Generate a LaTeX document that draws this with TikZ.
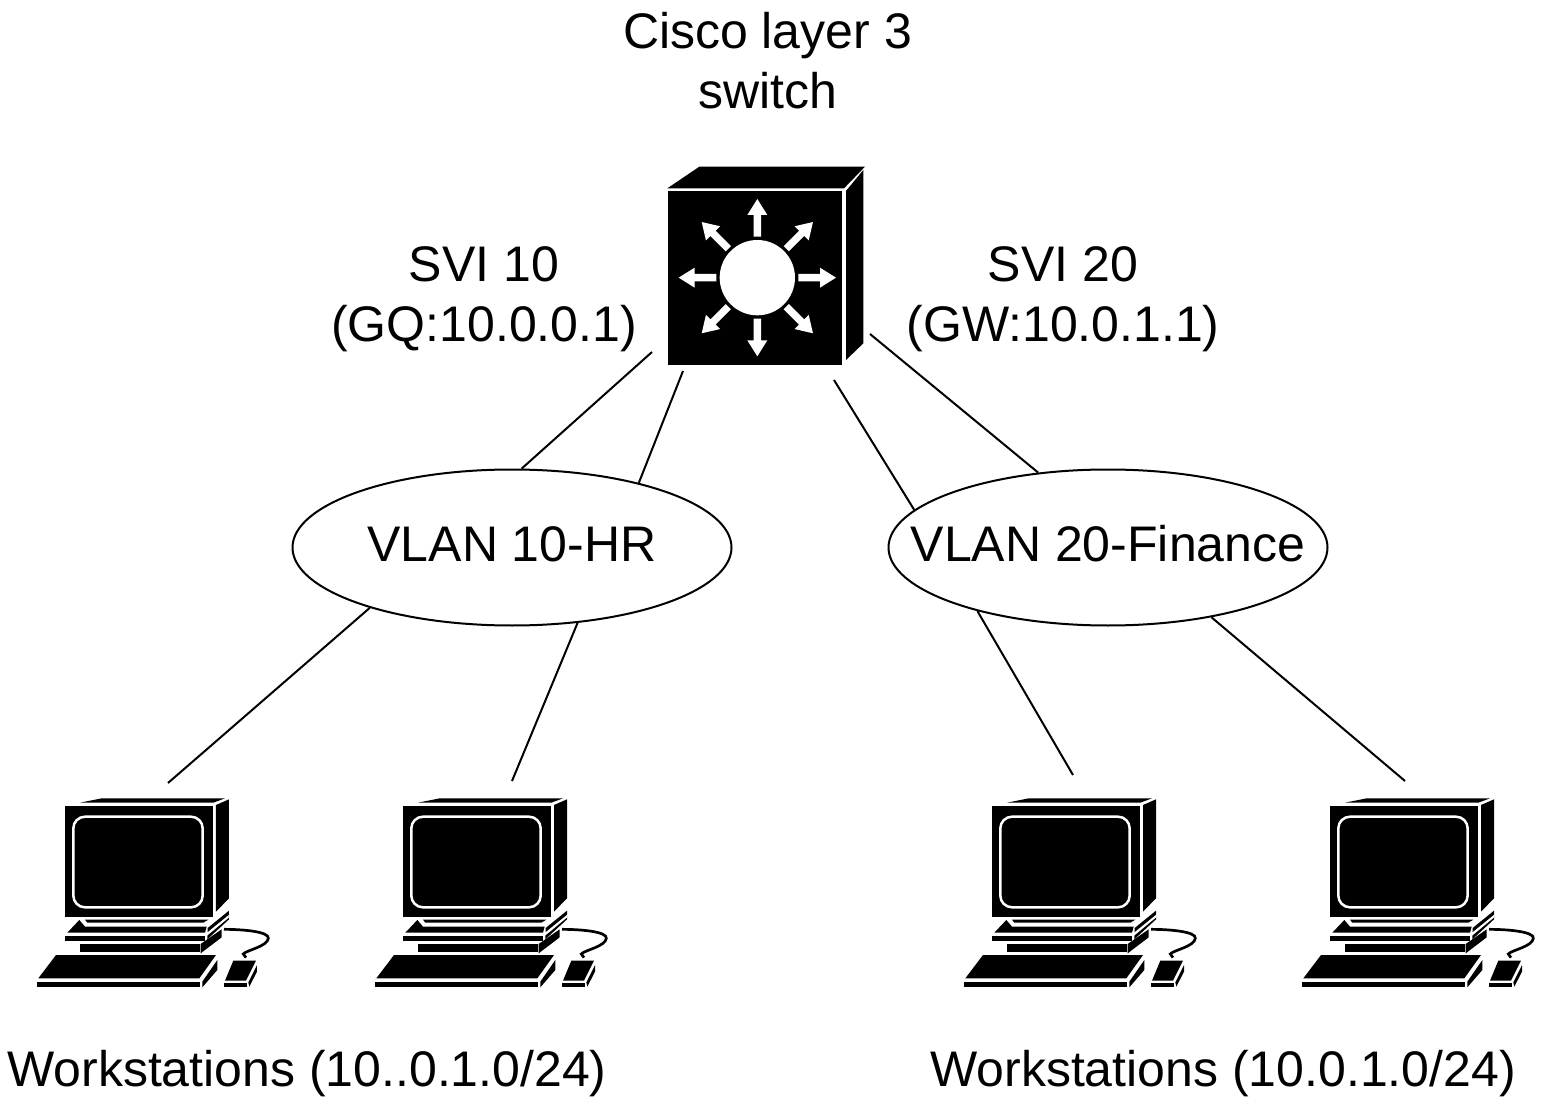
\documentclass[tikz,border=0pt]{standalone}
\usepackage{fontspec}
\setmainfont{Liberation Sans}
\usetikzlibrary{shapes.geometric}
\tikzset{
  x=1pt,y=-1pt,
  lbl/.style={inner sep=0pt,align=center,font=\fontsize{50}{60}\selectfont},
  vlan/.style={draw=black,line width=2pt,ellipse,inner sep=0pt,minimum width=439pt,minimum height=156pt,text depth=9pt,text height=36pt,font=\fontsize{50}{60}\selectfont},
  link/.style={draw=black,line width=2pt},
  zoomed/.style={x=.33333pt,y=-.33333pt},
  workstation/.pic={
    \begin{scope}[zoomed]
      % monitor
      \fill (105,47) rectangle (548,380);
      \fill (150,38) -- (215,25) -- (585,25) -- (550,38) -- cycle;
      \fill (558,45) -- (597,28) -- (597,325) -- (558,365) -- cycle;
      \draw[white,line width=2.5pt,rounded corners=11.7pt] (130,80) rectangle (518,352);
      % stand
      \fill (148,390) -- (165,410) -- (530,410) -- (525,428) -- (112,428) -- cycle;
      \fill (165,389) -- (515,389) -- (535,389) -- (520,398) -- (172,398) -- cycle;
      \fill (105,437) rectangle (525,453);
      \fill (149,462) rectangle (510,487);
      \fill (533,414) -- (597,362) -- (597,374) -- (533,426) -- cycle;
      \fill (532,437) -- (597,383) -- (597,378) -- (597,388) -- (532,448) -- cycle;
      \fill (512,462) -- (575,418) -- (575,442) -- (512,490) -- cycle;
      % keyboard
      \fill (78,495) -- (558,495) -- (508,565) -- (25,565) -- cycle;
      \fill (20,575) rectangle (510,592);
      \fill (517,575) -- (562,510) -- (562,540) -- (517,592) -- cycle;
      % cable
      \draw[line width=2.7pt] (582,418) .. controls (640,418) and (718,425) .. (715,445) .. controls (712,470) and (650,480) .. (640,492) -- (648,503);
      % mouse
      \fill (610,512) -- (678,512) -- (648,572) -- (585,572) -- cycle;
      \fill (583,580) rectangle (650,592);
      \fill (655,577) -- (681,525) -- (681,545) -- (658,590) -- cycle;
    \end{scope}
  }
}
\begin{document}
\begin{tikzpicture}
\useasboundingbox (0,0) rectangle (1551,1107);
% switch
\begin{scope}[shift={(650,155)},zoomed]
  \fill (55,108) rectangle (577,630);
  \fill (52,100) -- (148,35) -- (645,35) -- (582,100) -- cycle;
  \fill (588,108) -- (640,45) -- (640,565) -- (588,615) -- cycle;
  \fill[white] (322,368) circle[radius=113];
  \begin{scope}[shift={(322,368)}]
    \foreach \a in {0,45,...,315}{
      \fill[white,rotate=\a] (123,-11) -- (188,-11) -- (188,-30) -- (236,0) -- (188,30) -- (188,11) -- (123,11) -- cycle;
    }
  \end{scope}
\end{scope}
\coordinate (swA) at (652,352);
\coordinate (swB) at (683,371);
\coordinate (swC) at (834,380);
\coordinate (swD) at (870,334);
% vlans
\node[vlan] (v10) at (512,547.5) {\makebox[0pt]{VLAN 10-HR}};
\node[vlan] (v20) at (1108,547.5) {\makebox[0pt]{VLAN 20-Finance}};
% workstations
\pic at (30,790) {workstation};
\pic at (368,790) {workstation};
\pic at (957,790) {workstation};
\pic at (1295,790) {workstation};
\coordinate (pcA) at (168,783);
\coordinate (pcB) at (512,781);
\coordinate (pcC) at (1073,775);
\coordinate (pcD) at (1405,781);
% links
\draw[link] (swA) -- (v10.83.6);
\draw[link] (swB) -- (v10.27.7);
\draw[link] (swC) -- (v20.169);
\draw[link] (swD) -- (v20.133.3);
\draw[link] (v10.203) -- (pcA);
\draw[link] (v10.311.3) -- (pcB);
\draw[link] (v20.206) -- (pcC);
\draw[link] (v20.326) -- (pcD);
% labels
\node[lbl] (title) at (767.5,61) {Cisco layer 3\\switch};
\node[lbl] (svi10) at (484,299) {SVI 10\\(GQ:10.0.0.1)};
\node[lbl] (svi20) at (1063,299) {SVI 20\\(GW:10.0.1.1)};
\node[lbl] (wsl) at (307,1074) {Workstations (10..0.1.0/24)};
\node[lbl] (wsr) at (1223,1074) {Workstations (10.0.1.0/24)};
\end{tikzpicture}
\end{document}
